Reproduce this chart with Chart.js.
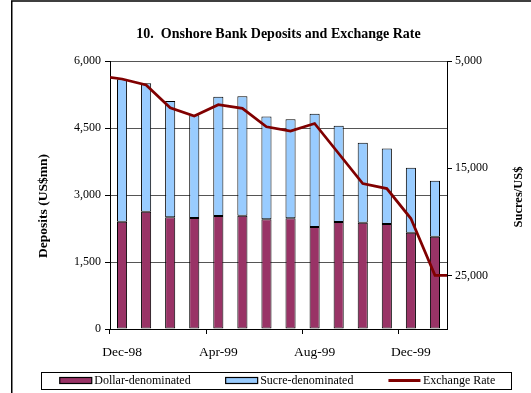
<!DOCTYPE html>
<html>
<head>
<meta charset="utf-8">
<script src="https://cdn.jsdelivr.net/npm/chart.js@4.4.1/dist/chart.umd.min.js"></script>
<style>
  html, body { margin: 0; padding: 0; background: #fff; }
</style>
</head>
<body>
<canvas id="chart" width="531" height="393"></canvas>
<script>
// Datos
const months = ["Dec-98", "Jan-99", "Feb-99", "Mar-99", "Apr-99", "May-99", "Jun-99",
  "Jul-99", "Aug-99", "Sep-99", "Oct-99", "Nov-99", "Dec-99", "Jan-00"];
const dollarDeposits = [2400, 2625, 2500, 2485, 2530, 2535, 2455, 2480, 2285, 2395, 2380, 2350, 2155, 2065];
const sucreDeposits = [3190, 2875, 2605, 2300, 2670, 2675, 2300, 2215, 2535, 2155, 1790, 1690, 1455, 1255];
const exchangeRate = [6680, 7240, 9370, 10140, 9080, 9420, 11140, 11540, 10830, 13630, 16430, 16900, 19700, 25000];
const rateAtEdges = [6525, 25000]; // la linea sigue hasta los bordes del grafico
const rateTicks = [5000, 15000, 25000];

const titleText = "10.  Onshore Bank Deposits and Exchange Rate";
const leftTitle = "Deposits (US$mn)";
const rightTitle = "Sucres/US$";

const serif = "'Liberation Serif', 'Times New Roman', serif";
Chart.defaults.font.family = serif;
Chart.defaults.color = "#000";

const fmt = (v) => Number(v).toLocaleString("en-US");

// puntos de la linea en un eje x lineal oculto
const rateLine = [{ x: -0.5, y: rateAtEdges[0] }]
  .concat(exchangeRate.map((v, i) => ({ x: i, y: v })))
  .concat([{ x: months.length - 0.5, y: rateAtEdges[1] }]);

// Marco, titulos y leyenda
const decorations = {
  id: "decorations",
  afterDraw(chart) {
    const { ctx, chartArea: a } = chart;
    const midX = (a.left + a.right) / 2;
    const midY = (a.top + a.bottom) / 2;
    ctx.save();

    ctx.strokeStyle = "#000";
    ctx.lineWidth = 1.5;
    ctx.beginPath();
    ctx.moveTo(11.75, chart.height);
    ctx.lineTo(11.75, 1);
    ctx.lineTo(chart.width, 1);
    ctx.stroke();

    ctx.fillStyle = "#000";
    ctx.textAlign = "center";
    ctx.textBaseline = "middle";
    ctx.font = "bold 14px " + serif;
    ctx.fillText(titleText, midX, 34);

    ctx.font = "bold 13.5px " + serif;
    ctx.save();
    ctx.translate(a.left - 66, midY + 11);
    ctx.rotate(-Math.PI / 2);
    ctx.fillText(leftTitle, 0, 0);
    ctx.restore();
    ctx.font = "bold 12.5px " + serif;
    ctx.save();
    ctx.translate(chart.width - 12, midY + 2);
    ctx.rotate(-Math.PI / 2);
    ctx.fillText(rightTitle, 0, 0);
    ctx.restore();

    // leyenda
    ctx.font = "12px " + serif;
    ctx.textAlign = "left";
    const sets = chart.data.datasets;
    const swatch = 32, gap = 2.5, between = 35;
    const widths = sets.map((d) => swatch + gap + ctx.measureText(d.label).width);
    const total = widths.reduce((s, w) => s + w, 0) + between * (sets.length - 1);
    const y = 380.5;
    let x = midX - 1 - total / 2;
    ctx.lineWidth = 1;
    ctx.strokeRect(Math.round(x - 19) + 0.5, 372.5, Math.round(total + 35), 17);
    sets.forEach((d, i) => {
      if (d.type === "line") {
        ctx.strokeStyle = d.borderColor;
        ctx.lineWidth = 3;
        ctx.beginPath();
        ctx.moveTo(x, y);
        ctx.lineTo(x + swatch, y);
        ctx.stroke();
      } else {
        ctx.fillStyle = d.backgroundColor;
        ctx.fillRect(x, y - 3, swatch, 6);
        ctx.strokeStyle = "#000";
        ctx.lineWidth = 1.2;
        ctx.strokeRect(x, y - 3, swatch, 6);
      }
      ctx.fillStyle = "#000";
      ctx.fillText(d.label, x + swatch + gap, y);
      x += widths[i] + between;
    });
    ctx.restore();
  }
};

const chart = new Chart(document.getElementById("chart"), {
  data: {
    labels: months,
    datasets: [
      {
        type: "bar",
        label: "Dollar-denominated",
        data: dollarDeposits,
        backgroundColor: "#993366",
        borderColor: "#000",
        borderWidth: 1,
        borderSkipped: false,
        stack: "deposits",
        grouped: false,
        categoryPercentage: 1,
        barPercentage: 0.42,
        xAxisID: "x",
        yAxisID: "y",
        order: 1,
      },
      {
        type: "bar",
        label: "Sucre-denominated",
        data: sucreDeposits,
        backgroundColor: "#99CCFF",
        borderColor: "#000",
        borderWidth: 1,
        borderSkipped: false,
        stack: "deposits",
        grouped: false,
        categoryPercentage: 1,
        barPercentage: 0.42,
        xAxisID: "x",
        yAxisID: "y",
        order: 1,
      },
      {
        type: "line",
        label: "Exchange Rate",
        data: rateLine,
        borderColor: "#800000",
        borderWidth: 2.75,
        pointRadius: 0,
        tension: 0,
        fill: false,
        xAxisID: "x2",
        yAxisID: "y2",
        order: 0,
      },
    ],
  },
  options: {
    responsive: false,
    animation: false,
    layout: { padding: { left: 12, right: 0, top: 61, bottom: 0 } },
    plugins: {
      legend: { display: false },
      title: { display: false },
      tooltip: { enabled: false },
    },
    scales: {
      x: {
        type: "category",
        stacked: true,
        offset: true,
        grid: {
          offset: true,
          drawOnChartArea: false,
          tickLength: 5,
          tickColor: (c) => (c.index % 4 === 0 ? "#000" : "rgba(0,0,0,0)"),
        },
        border: { color: "#000", width: 1 },
        ticks: {
          autoSkip: false,
          maxRotation: 0,
          padding: 10,
          font: { size: 13.5 },
          callback: (v, i) => (i % 4 === 0 ? months[i] : ""),
        },
        afterFit: (s) => { s.height = 64; },
      },
      x2: {
        type: "linear",
        display: false,
        min: -0.5,
        max: months.length - 0.5,
      },
      y: {
        stacked: true,
        min: 0,
        max: 6000,
        ticks: { stepSize: 1500, padding: 4, font: { size: 12 }, callback: fmt },
        grid: { color: "#555", tickColor: "#000", tickLength: 5 },
        border: { color: "#000", width: 1 },
        afterFit: (s) => { s.width = 98; },
      },
      y2: {
        position: "right",
        reverse: true,
        min: 5000,
        max: 30000,
        ticks: { padding: 3, font: { size: 12 }, callback: fmt },
        grid: { drawOnChartArea: false, tickColor: "#000", tickLength: 5 },
        border: { color: "#000", width: 1 },
        afterBuildTicks: (s) => { s.ticks = rateTicks.map((v) => ({ value: v })); },
        afterFit: (s) => { s.width = 84; },
      },
    },
  },
  plugins: [decorations],
});
</script>
</body>
</html>
